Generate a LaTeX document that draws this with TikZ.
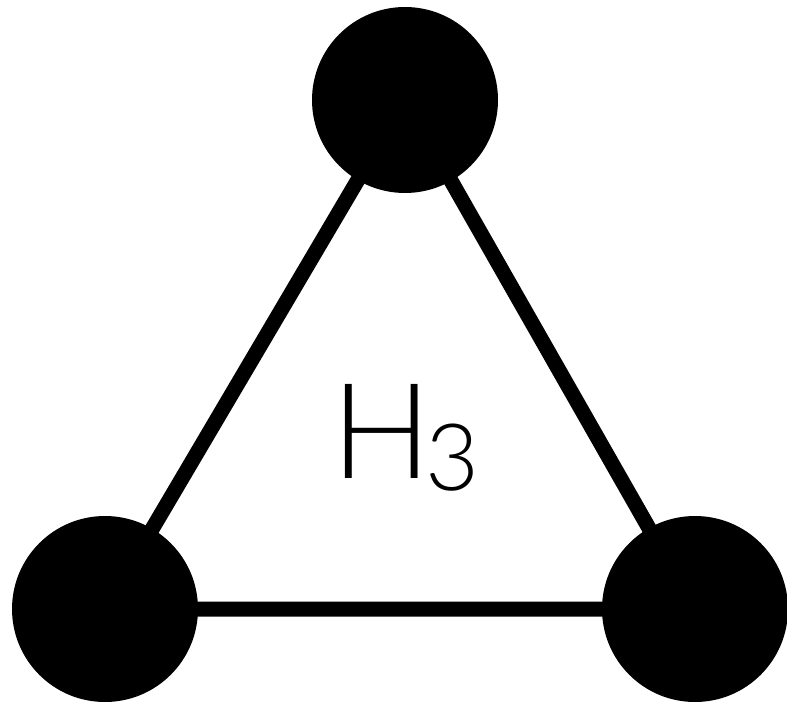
\documentclass[tikz,border=0pt]{standalone}
\usepackage{fontspec}
\newfontfamily\labelfont{Lato Light}

\begin{document}
\begin{tikzpicture}[x=1pt, y=-1pt]
    % Define vertex size and edge width
    \def\vertexRadius{93}
    \def\edgeWidth{15pt}

    \definecolor{vertexColour}{HTML}{000000}

    \tikzset{
        vertex/.style={circle, fill=vertexColour, inner sep=0pt, minimum size=2*\vertexRadius pt},
        edge/.style={draw=vertexColour, line width=\edgeWidth}
    }

    % Fix the canvas
    \useasboundingbox (0,0) rectangle (787,703);

    % Define coordinates for the vertices
    \coordinate (T) at (405,100);
    \coordinate (L) at (105,609);
    \coordinate (R) at (695,609);

    % Draw edges of the triangle
    \draw[edge] (T) -- (L) -- (R) -- cycle;

    % Draw vertices
    \node[vertex] (top) at (T) {};
    \node[vertex] (left) at (L) {};
    \node[vertex] (right) at (R) {};

    % Label the graph
    \node[anchor=base west, inner sep=0pt, font=\labelfont\fontsize{133}{133}\selectfont] (name) at (331,478)
        {H\kern-6pt\raisebox{-12pt}{\fontsize{93}{93}\selectfont 3}};

\end{tikzpicture}
\end{document}
